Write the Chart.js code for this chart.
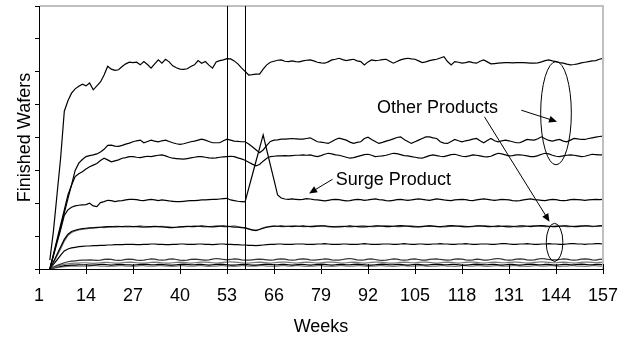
<!DOCTYPE html>
<html>
<head>
<meta charset="utf-8">
<script src="https://cdn.jsdelivr.net/npm/chart.js@4.4.1/dist/chart.umd.min.js"></script>
<style>
  html, body { margin: 0; padding: 0; background: #fff; }
</style>
</head>
<body>
<canvas id="wafers" width="633" height="339"></canvas>
<script>
// weekly output, first value is week 4, one row = 10 weeks
const firstWeek = 4;
const weekTicks = [1, 14, 27, 40, 53, 66, 79, 92, 105, 118, 131, 144, 157];
const markerWeeks = [53, 58];

const otherA = [
  27, 116, 228, 340, 480, 512, 535, 548, 556, 562,
  557, 566, 545, 557, 569, 590, 617, 608, 604, 606,
  616, 624, 629, 628, 629, 621, 631, 622, 611, 624,
  636, 626, 638, 630, 618, 612, 608, 607, 609, 616,
  621, 634, 626, 631, 620, 611, 630, 634, 636, 640,
  639, 633, 624, 612, 601, 590, 591, 593, 593, 608,
  621, 629, 632, 635, 636, 632, 631, 633, 631, 630,
  633, 635, 636, 633, 629, 627, 626, 630, 636, 638,
  641, 637, 634, 636, 638, 633, 631, 621, 630, 636,
  634, 635, 637, 638, 632, 626, 631, 636, 639, 641,
  639, 638, 633, 628, 630, 634, 636, 638, 642, 646,
  631, 621, 631, 629, 626, 628, 631, 628, 626, 632,
  636, 630, 624, 625, 626, 627, 628, 628, 627, 628,
  628, 628, 627, 626, 626, 627, 630, 634, 636, 633,
  631, 628, 626, 623, 621, 622, 624, 627, 629, 631,
  633, 634, 638, 641
];

const otherB = [
  0, 43, 85, 128, 171, 214, 256, 300, 322, 333,
  342, 345, 347, 350, 356, 364, 376, 377, 374, 373,
  376, 380, 383, 387, 390, 392, 384, 388, 392, 389,
  387, 390, 392, 388, 384, 381, 379, 381, 384, 387,
  389, 392, 395, 392, 388, 384, 384, 384, 390, 395,
  392, 389, 388, 387, 387, 380, 372, 363, 354, 362,
  376, 388, 392, 393, 395, 395, 396, 397, 396, 395,
  395, 397, 399, 393, 387, 386, 384, 382, 388, 394,
  398, 395, 392, 386, 382, 385, 387, 397, 401, 394,
  388, 382, 385, 389, 392, 396, 400, 402, 394, 388,
  382, 387, 392, 397, 402, 402, 399, 397, 387, 383,
  382, 388, 394, 390, 387, 390, 392, 395, 397, 390,
  384, 391, 397, 390, 387, 390, 392, 390, 387, 384,
  384, 389, 394, 393, 392, 396, 402, 396, 391, 389,
  392, 394, 389, 387, 392, 397, 396, 394, 394, 397,
  399, 401, 403, 404
];

const otherC = [
  0, 45, 90, 135, 180, 225, 255, 281, 290, 296,
  304, 311, 316, 321, 330, 337, 332, 326, 329, 332,
  337, 339, 342, 342, 340, 339, 341, 343, 342, 344,
  346, 347, 344, 340, 337, 336, 335, 334, 336, 338,
  340, 342, 342, 340, 338, 337, 338, 340, 341, 342,
  343, 342, 338, 335, 331, 325, 319, 314, 318, 328,
  337, 342, 343, 344, 344, 345, 344, 345, 346, 346,
  347, 346, 347, 344, 342, 345, 349, 352, 350, 347,
  346, 343, 340, 337, 339, 342, 345, 348, 349, 346,
  342, 343, 344, 346, 349, 352, 351, 348, 345, 344,
  342, 340, 338, 337, 341, 345, 347, 345, 343, 342,
  345, 348, 349, 346, 343, 342, 344, 347, 346, 344,
  342, 341, 343, 348, 352, 350, 347, 344, 345, 347,
  347, 346, 344, 342, 342, 345, 349, 352, 350, 346,
  343, 342, 344, 346, 347, 346, 344, 342, 343, 346,
  349, 348, 347, 347
];

const surgeProduct = [
  0, 40, 80, 120, 163, 180, 188, 192, 194, 195,
  196, 200, 192, 190, 202, 205, 209, 208, 205, 207,
  208, 210, 212, 212, 211, 209, 208, 210, 212, 210,
  208, 210, 209, 207, 206, 205, 205, 206, 207, 208,
  208, 209, 210, 210, 211, 212, 212, 213, 214, 215,
  210, 208, 206, 205, 204, 245, 286, 327, 367, 408,
  362, 316, 271, 225, 216, 213, 212, 213, 212, 211,
  212, 214, 213, 211, 210, 209, 207, 209, 211, 212,
  211, 209, 207, 208, 210, 212, 211, 209, 210, 212,
  213, 211, 210, 208, 207, 209, 211, 212, 210, 209,
  210, 212, 213, 212, 210, 209, 211, 213, 212, 210,
  209, 208, 210, 211, 212, 211, 209, 208, 210, 212,
  213, 212, 210, 209, 210, 212, 211, 210, 208, 207,
  208, 210, 212, 213, 211, 210, 209, 208, 210, 212,
  211, 209, 208, 209, 211, 212, 211, 210, 209, 210,
  211, 212, 211, 212
];

const otherD = [
  0, 22, 45, 68, 90, 106, 114, 118, 121, 123,
  124, 125, 125, 126, 127, 128, 129, 129, 128, 129,
  129, 130, 130, 129, 129, 128, 127, 128, 129, 130,
  129, 128, 127, 126, 126, 127, 128, 129, 130, 129,
  129, 130, 131, 130, 129, 128, 129, 130, 131, 130,
  129, 127, 127, 126, 125, 122, 119, 117, 120, 124,
  127, 129, 130, 130, 131, 130, 130, 129, 130, 130,
  131, 130, 129, 129, 130, 131, 131, 130, 129, 128,
  128, 129, 130, 131, 130, 129, 128, 128, 129, 130,
  131, 131, 130, 129, 129, 130, 131, 132, 131, 130,
  129, 128, 128, 129, 130, 131, 130, 129, 129, 130,
  131, 132, 131, 130, 129, 128, 129, 130, 131, 131,
  130, 129, 129, 130, 131, 130, 129, 128, 129, 130,
  131, 131, 130, 129, 130, 131, 132, 131, 130, 129,
  129, 130, 131, 131, 130, 129, 129, 130, 131, 131,
  130, 130, 131, 132
];

const otherE = [
  0, 18, 40, 62, 85, 102, 111, 116, 119, 121,
  122, 124, 126, 127, 127, 126, 127, 128, 130, 130,
  129, 128, 128, 129, 130, 131, 130, 129, 128, 128,
  129, 130, 129, 128, 127, 127, 128, 128, 129, 130,
  131, 130, 129, 128, 129, 130, 131, 131, 129, 128,
  130, 131, 129, 127, 125, 121, 118, 118, 121, 125,
  128, 130, 131, 130, 129, 129, 130, 131, 131, 130,
  129, 129, 130, 131, 132, 131, 130, 128, 128, 129,
  130, 130, 129, 128, 129, 130, 131, 131, 130, 129,
  129, 130, 131, 132, 131, 130, 129, 129, 130, 131,
  131, 130, 129, 130, 131, 132, 131, 130, 128, 128,
  129, 130, 130, 131, 131, 130, 129, 129, 130, 131,
  132, 131, 130, 129, 129, 130, 131, 131, 130, 128,
  128, 129, 130, 131, 132, 131, 130, 129, 129, 130,
  131, 131, 130, 129, 129, 130, 131, 132, 131, 130,
  129, 130, 131, 131
];

const otherF = [
  0, 14, 28, 42, 55, 61, 64, 66, 68, 69,
  70, 70, 71, 71, 72, 72, 73, 73, 74, 74,
  74, 75, 75, 75, 74, 74, 75, 75, 76, 76,
  75, 75, 74, 74, 75, 75, 76, 76, 75, 75,
  75, 76, 76, 75, 75, 74, 75, 76, 76, 75,
  75, 74, 74, 73, 73, 72, 72, 71, 72, 73,
  74, 75, 75, 76, 76, 75, 75, 75, 76, 76,
  76, 75, 75, 75, 76, 76, 77, 76, 75, 75,
  75, 76, 76, 75, 75, 75, 76, 77, 76, 75,
  75, 75, 76, 76, 76, 75, 75, 76, 77, 76,
  75, 75, 76, 76, 75, 75, 76, 76, 77, 76,
  76, 75, 75, 76, 76, 77, 76, 75, 75, 76,
  76, 76, 75, 75, 76, 77, 77, 76, 75, 75,
  76, 76, 77, 76, 75, 75, 76, 76, 77, 76,
  76, 75, 75, 76, 77, 77, 76, 76, 75, 76,
  76, 77, 77, 76
];

const otherG = [
  0, 6, 11, 15, 19, 22, 24, 25, 26, 27,
  27, 28, 27, 26, 27, 29, 30, 29, 27, 26,
  27, 29, 30, 29, 27, 26, 27, 29, 31, 30,
  28, 27, 28, 30, 31, 29, 27, 26, 27, 29,
  30, 29, 28, 27, 28, 30, 32, 31, 29, 28,
  29, 31, 30, 28, 27, 27, 28, 29, 30, 29,
  28, 27, 28, 30, 31, 30, 28, 27, 28, 30,
  31, 30, 28, 27, 28, 29, 31, 30, 28, 27,
  27, 29, 31, 32, 30, 28, 27, 28, 30, 31,
  29, 27, 26, 27, 29, 31, 30, 28, 27, 28,
  30, 31, 29, 27, 27, 29, 30, 31, 29, 28,
  27, 28, 30, 31, 30, 28, 27, 28, 30, 29,
  27, 27, 29, 31, 32, 30, 28, 27, 28, 30,
  31, 30, 28, 27, 28, 30, 32, 31, 29, 28,
  28, 29, 31, 30, 28, 27, 28, 30, 31, 30,
  28, 27, 29, 30
];

const otherH = [
  0, 4, 8, 11, 14, 16, 17, 18, 18, 19,
  19, 18, 17, 18, 19, 20, 20, 19, 18, 18,
  19, 20, 21, 20, 19, 18, 18, 19, 20, 21,
  20, 19, 18, 18, 19, 20, 21, 20, 19, 18,
  19, 20, 21, 21, 20, 19, 18, 19, 20, 21,
  22, 21, 20, 19, 18, 18, 19, 20, 21, 20,
  19, 18, 19, 20, 21, 21, 20, 19, 18, 19,
  20, 21, 20, 19, 18, 19, 20, 21, 21, 20,
  19, 18, 19, 20, 21, 20, 19, 18, 19, 20,
  21, 21, 20, 19, 18, 18, 19, 20, 21, 20,
  19, 19, 20, 21, 21, 20, 19, 18, 19, 20,
  21, 20, 19, 18, 19, 20, 21, 21, 20, 19,
  18, 19, 20, 21, 20, 19, 19, 20, 21, 21,
  20, 19, 18, 19, 20, 21, 22, 21, 20, 19,
  19, 20, 21, 20, 19, 18, 19, 20, 21, 21,
  20, 19, 20, 21
];

const otherI = [
  0, 3, 6, 8, 10, 11, 12, 12, 13, 13,
  13, 12, 12, 13, 14, 14, 13, 12, 13, 14,
  14, 13, 13, 12, 13, 14, 15, 14, 13, 13,
  14, 14, 13, 12, 12, 13, 14, 15, 14, 13,
  13, 14, 14, 13, 12, 13, 14, 15, 14, 13,
  12, 12, 13, 14, 14, 13, 12, 12, 13, 14,
  15, 14, 13, 13, 14, 14, 13, 12, 13, 14,
  14, 13, 12, 13, 14, 15, 14, 13, 12, 13,
  14, 14, 13, 13, 14, 15, 14, 13, 12, 12,
  13, 14, 15, 14, 13, 13, 14, 14, 13, 12,
  13, 14, 14, 13, 12, 13, 14, 15, 14, 13,
  13, 14, 14, 13, 12, 12, 13, 14, 15, 14,
  13, 13, 14, 14, 13, 12, 13, 14, 14, 13,
  12, 13, 14, 15, 14, 13, 13, 14, 14, 13,
  12, 13, 14, 14, 13, 13, 14, 15, 14, 13,
  13, 14, 14, 13
];

const otherJ = [
  0, 2, 4, 6, 7, 8, 9, 9, 9, 9,
  9, 9, 10, 10, 9, 9, 8, 9, 9, 10,
  10, 9, 9, 8, 9, 10, 10, 9, 9, 9,
  10, 10, 9, 9, 8, 9, 10, 10, 9, 9,
  9, 10, 10, 9, 8, 9, 9, 10, 10, 9,
  9, 8, 9, 10, 10, 9, 9, 9, 10, 10,
  9, 9, 8, 9, 10, 10, 9, 9, 10, 10,
  9, 8, 9, 9, 10, 10, 9, 9, 8, 9,
  10, 10, 9, 9, 9, 10, 10, 9, 8, 9,
  9, 10, 10, 9, 9, 8, 9, 10, 10, 9,
  9, 9, 10, 10, 9, 8, 9, 9, 10, 10,
  9, 9, 8, 9, 10, 10, 9, 9, 10, 10,
  9, 8, 9, 10, 10, 9, 9, 9, 10, 10,
  9, 9, 8, 9, 10, 10, 9, 9, 10, 10,
  9, 8, 9, 9, 10, 10, 9, 9, 8, 9,
  10, 10, 9, 9
];

const weeks = otherA.map((_, i) => firstWeek + i);

const lines = [
  [otherA, '#000'], [otherB, '#000'], [otherC, '#000'], [surgeProduct, '#000'],
  [otherD, '#000'], [otherE, '#666'], [otherF, '#000'],
  [otherG, '#333'], [otherH, '#777'], [otherI, '#000'], [otherJ, '#777']
];

const font = 'Liberation Sans, Arial, sans-serif';
Chart.defaults.font.family = font;
Chart.defaults.color = '#000';

// drawing of the hand-made notes (ellipses, arrows, marker lines) on top of the chart
const notes = {
  id: 'notes',
  afterDraw(chart) {
    const { ctx, chartArea: a, scales: { x, y } } = chart;
    const px = w => x.getPixelForValue(w);
    const py = v => y.getPixelForValue(v);
    ctx.save();

    // light frame on top and right
    ctx.strokeStyle = '#c0c0c0';
    ctx.lineWidth = 2;
    ctx.beginPath();
    ctx.moveTo(a.left + 1, a.top);
    ctx.lineTo(a.right, a.top);
    ctx.lineTo(a.right, a.bottom);
    ctx.stroke();

    ctx.strokeStyle = '#000';
    ctx.lineWidth = 1;

    // tick marks cross the x axis
    ctx.beginPath();
    weekTicks.forEach(w => {
      const tx = Math.round(px(w)) + 0.5;
      ctx.moveTo(tx, a.bottom);
      ctx.lineTo(tx, a.bottom - 5);
    });
    ctx.stroke();

    // the two vertical marker lines
    ctx.beginPath();
    markerWeeks.forEach(w => {
      const mx = Math.round(px(w)) + 0.5;
      ctx.moveTo(mx, a.top);
      ctx.lineTo(mx, a.bottom);
    });
    ctx.stroke();

    const arrow = (w1, v1, w2, v2) => {
      const x1 = px(w1), y1 = py(v1), x2 = px(w2), y2 = py(v2);
      const ang = Math.atan2(y2 - y1, x2 - x1);
      ctx.beginPath();
      ctx.moveTo(x1, y1);
      ctx.lineTo(x2 - 6 * Math.cos(ang), y2 - 6 * Math.sin(ang));
      ctx.stroke();
      ctx.beginPath();
      ctx.moveTo(x2, y2);
      ctx.lineTo(x2 - 8 * Math.cos(ang) + 3.5 * Math.sin(ang), y2 - 8 * Math.sin(ang) - 3.5 * Math.cos(ang));
      ctx.lineTo(x2 - 8 * Math.cos(ang) - 3.5 * Math.sin(ang), y2 - 8 * Math.sin(ang) + 3.5 * Math.cos(ang));
      ctx.closePath();
      ctx.fill();
    };
    const ring = (w, v, dw, dv) => {
      ctx.beginPath();
      ctx.ellipse(px(w), py(v), Math.abs(px(w + dw) - px(w)), Math.abs(py(v + dv) - py(v)), 0, 0, Math.PI * 2);
      ctx.stroke();
    };

    ctx.fillStyle = '#000';
    ring(144, 474, 4.24, 157);
    ring(143.6, 81, 2.3, 58);
    arrow(134.4, 483, 144.3, 448);
    arrow(124.2, 463, 142.2, 144);
    arrow(82.2, 273, 75.7, 230);

    ctx.font = '18px ' + font;
    ctx.textBaseline = 'alphabetic';
    ctx.fillText('Other Products', px(94.5), py(475));
    ctx.fillText('Surge Product', px(83.1), py(256));
    ctx.restore();
  }
};

new Chart(document.getElementById('wafers'), {
  type: 'line',
  data: {
    datasets: lines.map(([vals, color]) => ({
      data: vals.map((v, i) => ({ x: weeks[i], y: v })),
      borderColor: color,
      borderWidth: 1.2,
      pointRadius: 0,
      tension: 0,
      fill: false
    }))
  },
  options: {
    responsive: false,
    animation: false,
    layout: { padding: { left: 0, top: 6, right: 30, bottom: 0 } },
    plugins: { legend: { display: false }, tooltip: { enabled: false } },
    scales: {
      x: {
        type: 'linear',
        min: 1,
        max: 157,
        afterBuildTicks: s => { s.ticks = weekTicks.map(v => ({ value: v })); },
        afterFit: s => { s.height = 70; },
        grid: { drawOnChartArea: false, tickLength: 5, color: '#000' },
        border: { color: '#000', width: 1 },
        ticks: { font: { size: 18 }, padding: 11, maxRotation: 0, autoSkip: false },
        title: { display: true, text: 'Weeks', font: { size: 18 }, padding: { top: 0, bottom: 1 } }
      },
      y: {
        min: 0,
        max: 800,
        afterFit: s => { s.width = 39; },
        ticks: { display: false, stepSize: 100 },
        grid: { drawOnChartArea: false, tickLength: 4, color: '#000' },
        border: { color: '#000', width: 1 },
        title: { display: true, text: 'Finished Wafers', font: { size: 18 }, padding: { top: 14, bottom: 0 } }
      }
    }
  },
  plugins: [notes]
});
</script>
</body>
</html>
